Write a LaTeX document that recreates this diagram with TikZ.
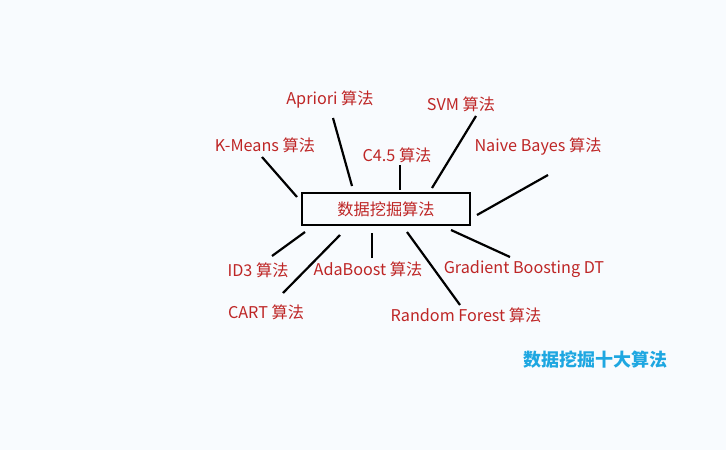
\documentclass[tikz,border=0pt]{standalone}
\usepackage{fontspec}
\setmainfont{Noto Sans CJK SC}
\begin{document}
\begin{tikzpicture}[x=1pt,y=-1pt,
  lab/.style={text=red!70!black!85, font=\fontsize{16.2}{18}\selectfont, inner sep=1pt},
  conn/.style={line width=2.2pt, black}]
\definecolor{bg}{HTML}{F8FBFE}
\definecolor{ttl}{HTML}{1EA7E1}
\fill[bg] (0,0) rectangle (726,450);
\useasboundingbox (0,0) rectangle (726,450);
\node[draw=black, line width=2pt, minimum width=168pt, minimum height=32pt, lab] (c) at (386,209) {数据挖掘算法};
\node[lab] (km) at (265,145) {K-Means 算法};
\node[lab] (ap) at (330,100) {Apriori 算法};
\node[lab] (c45) at (397,155) {C4.5 算法};
\node[lab] (svm) at (461,104) {SVM 算法};
\node[lab] (nb) at (538,147) {Naive Bayes 算法};
\node[lab] (id3) at (258,270) {ID3 算法};
\node[lab] (cart) at (266,312) {CART 算法};
\node[lab] (ada) at (368,269) {AdaBoost 算法};
\node[lab] (rf) at (466,315) {Random Forest 算法};
\node[lab] (gb) at (524,269) {Gradient Boosting DT};
\node[text=ttl, font=\bfseries\fontsize{18}{20}\selectfont] (t) at (595,360) {数据挖掘十大算法};
\coordinate (a1) at (262,157); \coordinate (b1) at (297,197);
\coordinate (a2) at (333,118); \coordinate (b2) at (352,186);
\coordinate (a3) at (400,165); \coordinate (b3) at (400,190);
\coordinate (a4) at (476,116); \coordinate (b4) at (432,188);
\coordinate (a5) at (548,175); \coordinate (b5) at (477,215);
\coordinate (a6) at (272,256); \coordinate (b6) at (305,232);
\coordinate (a7) at (283,293); \coordinate (b7) at (340,235);
\coordinate (a8) at (372,258); \coordinate (b8) at (372,233);
\coordinate (a9) at (460,305); \coordinate (b9) at (407,232);
\coordinate (a10) at (510,257); \coordinate (b10) at (451,230);
\foreach \i in {1,...,10} \draw[conn] (a\i) -- (b\i);
\end{tikzpicture}
\end{document}
